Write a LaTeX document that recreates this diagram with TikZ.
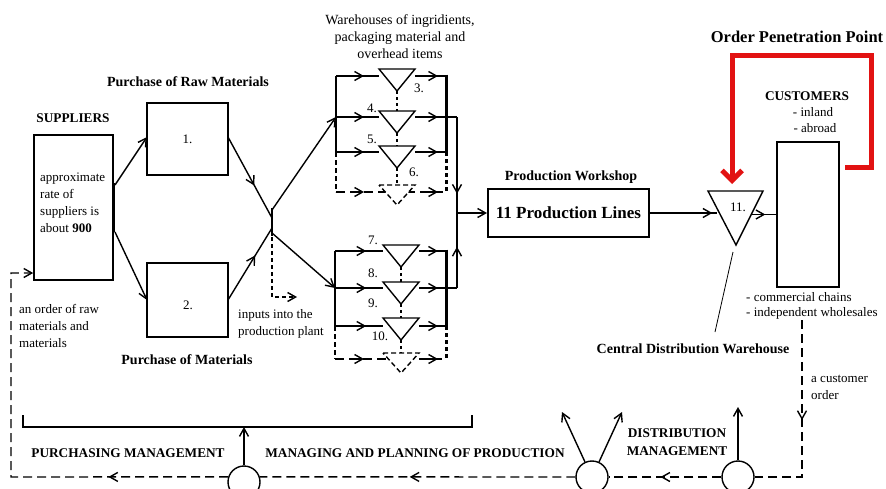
\documentclass[tikz,border=0pt]{standalone}
\usepackage{fontspec}
\setmainfont{Liberation Serif}
\usetikzlibrary{arrows.meta,decorations.markings}
\definecolor{opp}{RGB}{226,18,18}
\tikzset{
 >={Straight Barb[length=8pt,width=9pt]},
 every node/.style={font=\fontsize{13}{17}\selectfont, inner sep=0pt},
 lbl/.style={font=\fontsize{14}{17}\selectfont\bfseries},
 caps/.style={font=\fontsize{13.3}{18}\selectfont\bfseries},
 txt/.style={align=left, anchor=west},
 blk/.style={draw, line width=1.6pt, inner sep=0pt},
 ln/.style={line width=1.4pt},
 dsh/.style={line width=1.4pt, dash pattern=on 9pt off 5pt},
 sdsh/.style={line width=1.4pt, dash pattern=on 5pt off 3pt},
 dotl/.style={line width=1.4pt, dash pattern=on 3pt off 3pt},
 thickdot/.style={line width=3pt, dash pattern=on 4pt off 3pt},
 marr/.style={postaction={decorate},decoration={markings,mark=at position #1 with {\arrow{>}}}},
 wh/.pic={\draw[line width=1.4pt, fill=white] (-18,0) -- (18,0) -- (0,22) -- cycle;},
 whd/.pic={\draw[sdsh, fill=white] (-18,0) -- (18,0) -- (0,20) -- cycle;},
}
\begin{document}
\begin{tikzpicture}[x=1pt,y=-1pt]
\useasboundingbox (0,0) rectangle (886,488);
\clip (0,0) rectangle (886,488);

% ---------- boxes ----------
\node[blk, minimum width=79pt, minimum height=145pt] (sup) at (73.5,207.5) {};
\node[txt] (suptext) at (40,203) {approximate\\rate of\\suppliers is\\about \textbf{900}};
\node[caps] (supl) at (73,118) {SUPPLIERS};

\node[blk, minimum width=81pt, minimum height=72pt] (b1) at (187.5,139) {1.};
\node[blk, minimum width=81pt, minimum height=74pt] (b2) at (187.5,300) {};
\node (b2t) at (188,305) {2.};
\node[lbl] (rawl) at (188,82) {Purchase of Raw Materials};
\node[lbl] (matl) at (187,360) {Purchase of Materials};

\node[blk, line width=2pt, minimum width=161pt, minimum height=48pt,
      font=\fontsize{17}{20}\selectfont\bfseries] (prod) at (568.5,213) {11 Production Lines};
\node[lbl] (prodl) at (571,177) {Production Workshop};

\node[blk, minimum width=62pt, minimum height=145pt] (cust) at (808,214.5) {};
\node[caps] (custl) at (807,96) {CUSTOMERS};
\node (inl) at (813,112) {- inland};
\node (abr) at (815,128) {- abroad};
\node[txt] (comm) at (746,297) {- commercial chains};
\node[txt] (indep) at (746,313) {- independent wholesales};

% ---------- supplier bar and junction ----------
\coordinate (sbt) at (113,183); \coordinate (sbb) at (113,232);
\draw[line width=3pt] (sbt) -- (sbb);
\draw[ln,->] (115,185) -- (147,137);
\draw[ln,->] (115,232) -- (147,300);

\coordinate (jt) at (272,208); \coordinate (jb) at (272,236);
\draw[line width=2.5pt] (jt) -- (jb);
\draw[ln, marr=0.6] (228,137) -- (272,218);
\draw[ln, marr=0.62] (228,300) -- (272,228);
\draw[ln,->] (272,210) -- (336,117);
\draw[ln,->] (272,233) -- (335,288);
\draw[line width=1.4pt, dash pattern=on 4pt off 3pt, ->] (272,237) -- (272,297) -- (297,297);
\node[txt] (inp) at (238,324) {inputs into the\\production plant};

% ---------- upper warehouse group ----------
\node[font=\fontsize{14}{17}\selectfont, align=center] (whl) at (400,37)
  {Warehouses of ingridients,\\packaging material and\\overhead items};
\foreach \yy in {76,117,152} {
  \draw[ln, marr=0.65] (336,\yy) -- (379,\yy);
  \draw[ln, marr=0.74] (415,\yy) -- (446,\yy);}
\draw[dsh] (336,192) -- (446,192);
\draw[ln,->] (354,192) -- (364,192);
\draw[ln,->] (428,192) -- (438,192);
\draw[ln] (336,76) -- (336,152);
\draw[sdsh] (336,152) -- (336,192);
\draw[line width=3pt] (446,74.5) -- (446,152);
\draw[thickdot] (446,152) -- (446,193);
\draw[ln] (446,117) -- (457,117);
\draw[dotl] (397,91) -- (397,111);
\draw[dotl] (397,133) -- (397,146);
\draw[dotl] (397,168) -- (397,185);
\pic at (397,69) {wh};
\pic at (397,111) {wh};
\pic at (397,146) {wh};
\pic at (397,185) {whd};
\node (n3) at (419,88) {3.};
\node (n4) at (372,108) {4.};
\node (n5) at (372,139) {5.};
\node (n6) at (414,172) {6.};

% ---------- lower warehouse group ----------
\foreach \yy in {251,288,326} {
  \draw[ln, marr=0.65] (335,\yy) -- (383,\yy);
  \draw[ln, marr=0.7] (419,\yy) -- (446,\yy);}
\draw[dsh] (335,359) -- (446,359);
\draw[ln,->] (354,359) -- (364,359);
\draw[ln,->] (428,359) -- (438,359);
\draw[ln] (335,251) -- (335,326);
\draw[sdsh] (335,326) -- (335,359);
\draw[line width=3pt] (446,249.5) -- (446,326);
\draw[thickdot] (446,326) -- (446,360);
\draw[ln] (446,288) -- (457,288);
\draw[dotl] (401,267) -- (401,282);
\draw[dotl] (401,304) -- (401,318);
\draw[dotl] (401,340) -- (401,353);
\pic at (401,245) {wh};
\pic at (401,282) {wh};
\pic at (401,318) {wh};
\pic at (401,353) {whd};
\node (n7) at (373,240) {7.};
\node (n8) at (373,273) {8.};
\node (n9) at (373,303) {9.};
\node (n10) at (380,336) {10.};

% ---------- collector to production ----------
\coordinate (col) at (457,213);
\draw[ln, marr=0.8] (457,117) -- (col);
\draw[ln, marr=0.55] (457,288) -- (col);
\draw[ln,->] (col) -- (prod.west);

% ---------- central distribution warehouse ----------
\coordinate (t11in) at (717,213);
\draw[ln, marr=0.93] (prod.east) -- (t11in);
\draw[ln, fill=white] (708,191) -- (763,191) -- (736,245) -- cycle;
\node (n11) at (738,207) {11.};
\coordinate (t11out) at (752,214.5);
\draw[ln, marr=0.55] (t11out) -- (cust.west);
\draw[line width=0.8pt] (733,252) -- (715,332);
\node[lbl] (cdw) at (693,349) {Central Distribution Warehouse};

% ---------- order penetration point ----------
\node[font=\fontsize{16.5}{20}\selectfont\bfseries] (opp) at (797,37) {Order Penetration Point};
\draw[line width=5pt, opp, -{Straight Barb[length=10pt,width=20pt]}]
  (845,167) -- (871,167) -- (871,55) -- (732,55) -- (732,184);

% ---------- bottom management circles ----------
\node[draw, circle, ln, minimum size=32pt] (c1) at (244,482) {};
\node[draw, circle, ln, minimum size=32pt] (c2) at (592,477) {};
\node[draw, circle, ln, minimum size=32pt] (c3) at (738,477) {};

\draw[line width=1.2pt] (23,415) -- (23,427) -- (472,427) -- (472,415);
\draw[ln,->] (c1.north) -- (244,427);
\draw[ln,->] (c2.115) -- (562,412);
\draw[ln,->] (c2.65) -- (622,412);
\draw[ln,->] (c3.north) -- (738,407);

\draw[dsh, marr=0.49] (802,320) -- (802,477) -- (c3.east);
\draw[dsh, marr=0.54] (c3.west) -- (c2.east);
\draw[dsh, marr=0.525] (c2.west) -- (c1.18);
\draw[dsh, marr=0.27, ->] (c1.162) -- (11,477) -- (11,273) -- (sup.west |- 0,273);

\node[txt] (cord) at (811,387) {a customer\\order};
\node[txt] (rord) at (19,326) {an order of raw\\materials and\\materials};
\node[caps] (pm) at (128,453) {PURCHASING MANAGEMENT};
\node[caps] (mpp) at (415,453) {MANAGING AND PLANNING OF PRODUCTION};
\node[caps, align=center] (dm) at (677,442) {DISTRIBUTION\\MANAGEMENT};
\end{tikzpicture}
\end{document}
